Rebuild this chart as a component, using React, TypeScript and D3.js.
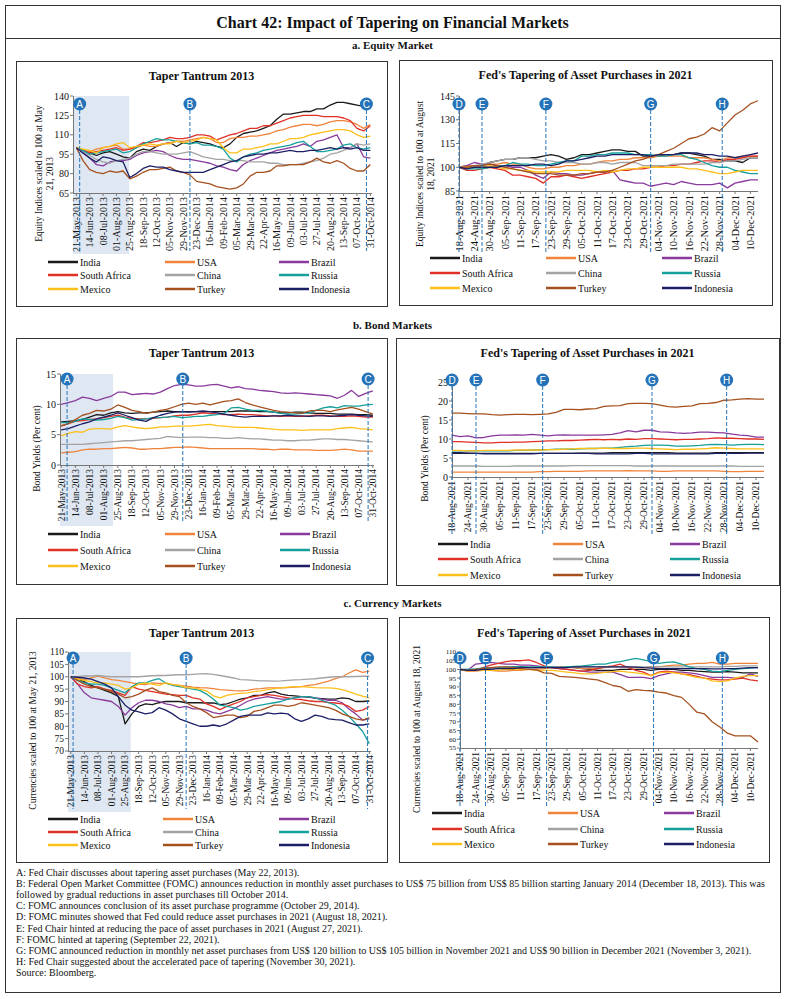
import React from 'react';
import * as d3 from 'd3';

const FONT = "'Liberation Serif', 'Times New Roman', serif";
const SANS = "'Liberation Sans', Arial, sans-serif";
const BLUE = '#2473b8';

const countries = ['India', 'USA', 'Brazil', 'South Africa', 'China', 'Russia', 'Mexico', 'Turkey', 'Indonesia'];
const colors = ['#1a1a1a', '#f0843c', '#8a3a9c', '#e03127', '#a3a3a3', '#16a09b', '#fdbf1a', '#a5511f', '#1d1f66'];

// sampling grid: every 12 days from 21-May-2013, every 3 days from 18-Aug-2021
const start13 = new Date(2013, 4, 21);
const start21 = new Date(2021, 7, 18);
const dates13 = d3.range(45).map(i => d3.timeDay.offset(start13, 12 * i));
const dates21 = d3.range(40).map(i => d3.timeDay.offset(start21, 3 * i));
const ticks13 = d3.range(23).map(i => d3.timeDay.offset(start13, 24 * i));
const ticks21 = d3.range(20).map(i => d3.timeDay.offset(start21, 6 * i));

// a. equity, taper tantrum 2013
const eq13India = [100,98,96,94,96,97,95,93,92,97,99,98,101,103,104,101,104,103,105,104,103,101,100,103,108,111,112,113,115,117,122,126,126,127,128,128,130,130,133,135,135,134,133,132,132];
const eq13USA = [100,98,97,99,100,101,102,99,99,100,102,101,101,103,104,105,105,106,107,108,107,104,104,107,108,108,109,109,110,111,113,114,116,117,118,118,117,118,120,121,121,120,118,115,118];
const eq13Brazil = [100,96,92,87,86,89,90,90,91,94,96,97,98,97,94,92,91,91,90,89,88,86,85,83,82,87,90,92,94,96,98,99,100,101,103,101,105,106,108,110,100,100,103,93,92];
const eq13SA = [100,98,96,97,98,99,100,98,99,101,104,104,105,106,108,107,107,108,110,110,109,106,108,110,111,113,115,115,117,117,119,121,123,124,125,125,125,124,124,124,123,121,115,113,117];
const eq13China = [100,97,94,91,89,88,90,91,92,95,97,97,96,95,95,95,96,97,95,93,92,91,91,90,90,90,89,89,89,88,88,87,87,87,88,89,90,92,95,96,98,100,103,102,103];
const eq13Russia = [100,98,95,96,97,98,99,96,97,100,103,105,107,106,106,105,104,103,104,102,102,101,99,92,89,93,95,96,98,99,100,101,102,104,105,101,97,97,98,99,102,103,100,99,100];
const eq13Mexico = [100,99,98,96,100,101,103,104,100,101,102,103,102,103,103,105,104,105,106,108,107,106,100,96,96,99,99,100,101,103,103,105,107,107,108,110,111,112,113,114,114,113,110,108,109];
const eq13Turkey = [100,90,83,81,80,82,81,82,76,78,81,83,83,84,85,82,81,79,74,73,72,70,69,68,69,72,78,81,81,82,86,86,87,87,87,89,92,89,88,90,88,84,82,82,87];
const eq13Indonesia = [100,96,92,89,93,92,90,89,77,80,84,86,85,85,83,82,81,81,81,81,83,85,87,89,90,93,94,95,95,96,96,97,98,97,97,98,98,99,100,99,100,99,100,98,98];

// a. equity, tapering 2021
const eq21India = [100,100,101,101,103,104,105,105,106,106,106,107,108,107,105,106,108,108,109,110,111,111,110,110,107,107,107,108,108,109,109,108,107,105,105,104,104,103,106,106];
const eq21USA = [100,101,101,101,102,102,103,102,102,100,99,99,100,100,101,101,102,102,103,104,104,105,105,106,106,106,107,107,107,107,106,106,106,105,104,106,106,107,107,107];
const eq21Brazil = [100,101,103,102,102,101,101,100,100,98,95,93,97,96,96,95,95,96,97,97,98,92,91,90,90,88,89,90,89,91,90,89,89,89,90,87,90,91,92,92];
const eq21SA = [100,98,98,99,100,99,98,95,95,94,93,90,94,94,95,94,93,94,95,96,97,98,98,99,99,100,100,101,101,102,102,103,104,104,103,105,105,106,107,107];
const eq21China = [100,100,101,102,103,104,105,105,106,106,105,104,104,103,103,103,102,102,103,103,102,103,103,103,101,101,101,101,102,102,102,102,102,103,103,104,104,105,106,106];
const eq21Russia = [100,99,99,99,100,101,101,103,102,102,101,101,102,103,104,104,107,107,108,108,109,109,109,108,108,108,107,107,108,108,106,105,103,101,100,100,98,97,96,96];
const eq21Mexico = [100,100,100,100,101,100,99,99,98,98,97,97,97,97,98,98,98,98,97,98,97,98,99,99,100,100,100,100,100,100,99,99,98,97,96,96,97,98,98,98];
const eq21Turkey = [100,100,101,101,102,101,100,99,98,97,96,96,96,95,95,95,96,96,97,97,98,100,102,104,105,107,108,110,112,115,118,119,121,125,123,128,133,136,140,142];
const eq21Indonesia = [100,99,100,100,100,100,101,101,101,101,102,102,101,102,104,104,105,106,107,107,108,108,108,108,108,107,108,108,108,109,109,109,108,108,107,107,106,107,108,109];

// b. bond yields, 2013
const bd13India = [7.1,7.2,7.3,7.5,7.9,8.3,8.2,8.6,8.8,8.6,8.5,8.6,8.6,8.7,8.8,8.9,8.8,8.8,8.8,8.8,8.7,8.8,8.8,8.8,8.8,8.9,8.9,8.9,8.8,8.8,8.7,8.6,8.6,8.7,8.7,8.6,8.5,8.5,8.5,8.4,8.4,8.4,8.3,8.3,8.2];
const bd13USA = [2.0,2.1,2.2,2.5,2.6,2.6,2.7,2.7,2.8,2.9,2.8,2.6,2.6,2.7,2.7,2.8,2.9,2.9,3.0,2.9,2.8,2.7,2.7,2.7,2.7,2.7,2.7,2.7,2.6,2.6,2.5,2.6,2.6,2.5,2.5,2.5,2.4,2.4,2.4,2.5,2.6,2.5,2.3,2.3,2.3];
const bd13Brazil = [10.0,10.3,10.6,11.2,11.0,10.6,11.0,11.3,12.0,12.0,11.6,11.7,11.8,11.7,12.0,12.6,13.1,13.3,13.2,13.0,13.0,13.2,13.3,13.0,12.7,12.9,12.6,12.5,12.3,12.2,12.1,11.9,11.8,11.9,11.8,11.7,11.6,11.5,11.4,11.0,11.5,12.3,11.3,11.8,12.2];
const bd13SA = [6.4,6.8,7.2,7.3,7.5,7.6,7.8,8.0,8.2,7.9,7.7,7.6,7.6,7.7,7.8,7.9,8.1,8.2,8.2,8.4,8.6,8.5,8.4,8.3,8.3,8.4,8.3,8.3,8.2,8.1,8.1,8.0,8.1,8.0,8.0,8.1,8.2,8.2,8.1,8.0,8.0,8.1,8.0,7.9,7.9];
const bd13China = [3.4,3.4,3.4,3.4,3.5,3.6,3.7,3.8,3.9,4.0,4.0,4.1,4.2,4.3,4.4,4.7,4.6,4.5,4.6,4.6,4.6,4.5,4.5,4.4,4.4,4.5,4.4,4.3,4.3,4.2,4.1,4.1,4.0,4.0,4.1,4.1,4.2,4.3,4.3,4.2,4.2,4.1,4.0,3.9,3.8];
const bd13Russia = [7.0,7.0,7.2,7.6,7.5,7.4,7.5,7.7,8.0,7.8,7.4,7.5,7.6,7.8,7.8,7.9,8.0,7.8,7.9,8.0,8.0,8.2,8.3,8.5,9.4,9.5,9.2,9.0,9.0,8.9,8.7,8.5,8.4,8.4,8.5,8.6,9.0,9.4,9.6,9.4,9.8,9.7,9.7,9.9,10.0];
const bd13Mexico = [4.8,5.2,5.5,5.4,5.9,6.0,6.0,5.9,6.3,6.5,6.3,6.1,6.0,6.1,6.3,6.3,6.4,6.4,6.4,6.5,6.6,6.7,6.5,6.4,6.3,6.2,6.2,6.2,6.1,6.0,5.9,5.8,5.8,5.8,5.7,5.8,5.8,5.8,5.8,6.0,6.1,6.2,6.0,5.9,5.8];
const bd13Turkey = [6.5,6.8,7.5,8.2,8.5,9.0,8.9,9.2,9.9,9.5,9.0,8.8,8.5,8.7,9.0,9.2,9.6,10.0,10.2,10.0,10.2,9.9,10.2,10.5,10.6,10.9,10.3,9.9,9.6,9.3,9.0,8.8,8.7,8.6,8.5,8.9,9.0,9.0,8.8,9.1,9.3,9.5,9.2,8.8,8.4];
const bd13Indonesia = [5.8,6.0,6.4,6.8,7.1,7.6,7.9,8.2,8.6,8.2,7.8,7.4,7.2,7.8,8.2,8.5,8.7,8.8,8.7,8.8,8.9,8.8,8.6,8.4,8.2,8.0,7.9,8.0,8.0,8.0,8.1,8.1,8.2,8.1,8.1,8.0,8.1,8.1,8.0,8.1,8.2,8.3,8.2,8.1,8.0];

// b. bond yields, 2021
const bd21India = [6.2,6.2,6.2,6.2,6.2,6.2,6.2,6.2,6.2,6.2,6.2,6.2,6.2,6.2,6.2,6.2,6.3,6.3,6.3,6.3,6.4,6.4,6.4,6.4,6.4,6.4,6.4,6.4,6.3,6.3,6.3,6.3,6.3,6.4,6.4,6.4,6.4,6.4,6.4,6.4];
const bd21USA = [1.3,1.3,1.3,1.3,1.3,1.3,1.3,1.3,1.3,1.3,1.3,1.4,1.4,1.5,1.5,1.5,1.5,1.6,1.6,1.6,1.6,1.6,1.7,1.6,1.6,1.6,1.5,1.5,1.6,1.6,1.6,1.6,1.6,1.6,1.5,1.4,1.4,1.5,1.5,1.5];
const bd21Brazil = [11.0,10.6,10.8,10.3,10.4,10.8,11.0,11.0,11.1,11.0,11.2,11.0,10.8,11.0,11.1,11.0,11.0,11.0,11.0,11.1,11.2,11.6,12.2,11.9,12.3,12.3,11.9,11.8,11.6,11.5,11.6,11.8,11.8,11.7,11.6,11.3,11.0,10.9,10.5,10.5];
const bd21SA = [9.3,9.3,9.2,9.1,9.0,9.0,9.1,9.1,9.2,9.2,9.3,9.4,9.5,9.5,9.6,9.6,9.7,9.8,9.9,9.8,9.9,9.8,10.0,9.9,10.1,10.1,10.0,9.9,9.8,9.9,9.9,10.0,10.1,10.3,10.2,10.2,10.1,10.0,10.0,9.9];
const bd21China = [2.9,2.9,2.9,2.9,2.8,2.8,2.8,2.8,2.9,2.9,2.9,2.9,2.9,2.9,2.9,3.0,3.0,3.0,3.0,3.0,3.0,3.0,3.0,2.9,2.9,2.9,2.9,2.9,2.9,2.9,2.9,2.9,2.9,2.9,2.9,2.9,2.8,2.8,2.8,2.8];
const bd21Russia = [6.9,6.9,6.9,6.9,6.9,6.9,6.9,6.9,7.0,7.0,7.1,7.1,7.2,7.3,7.3,7.3,7.4,7.5,7.5,7.6,7.6,7.8,8.0,8.1,8.3,8.4,8.4,8.3,8.1,8.1,8.2,8.3,8.5,8.6,8.5,8.4,8.5,8.6,8.6,8.5];
const bd21Mexico = [7.0,7.0,6.9,6.9,7.0,7.0,7.0,7.0,7.1,7.1,7.1,7.1,7.2,7.2,7.3,7.4,7.5,7.5,7.5,7.6,7.5,7.5,7.5,7.6,7.6,7.5,7.4,7.3,7.2,7.3,7.3,7.4,7.5,7.7,7.6,7.5,7.4,7.4,7.4,7.4];
const bd21Turkey = [16.8,16.8,16.7,16.6,16.6,16.4,16.3,16.4,16.5,16.5,16.4,16.5,16.6,17.0,17.8,17.8,17.7,17.9,18.0,18.6,18.7,18.8,19.3,19.4,19.4,19.3,18.9,18.5,18.4,18.6,18.7,19.3,19.4,19.6,20.2,20.3,20.5,20.6,20.5,20.5];
const bd21Indonesia = [6.4,6.4,6.3,6.2,6.1,6.1,6.1,6.1,6.1,6.1,6.1,6.2,6.2,6.2,6.2,6.2,6.2,6.2,6.1,6.1,6.1,6.1,6.1,6.2,6.2,6.1,6.1,6.1,6.1,6.1,6.1,6.1,6.1,6.2,6.2,6.2,6.2,6.3,6.3,6.3];

// c. currencies, 2013
const cu13India = [100,99,98,96.5,95.5,94.5,93.5,92,81,85,88,89,88.7,89.5,90,90,90,89.5,89.5,89.5,89.4,89.4,88.7,89,90,91,91.5,92.5,92.5,93.5,94,93,92.5,92.3,92,91.8,91.4,91.2,91,91,91.5,91.2,90,90,90.2];
const cu13USA = [100,99.3,98.8,99.5,100.3,99.5,98.8,98.5,98,97.5,97,96.8,97.5,97.3,97.3,96.8,96.5,96.2,95.8,95.6,95.5,95.2,94.8,94.6,94.4,94.3,94.5,95,95.2,95.5,95.5,95.5,95.6,95.8,96,96.5,96.8,97.5,98.2,99.2,100,101.5,102.8,101.8,102.3];
const cu13Brazil = [100,97,93.5,91.5,91,90.5,90,88,84.5,87.5,89.5,90.5,90.5,90,89,88.5,87.5,88,87,87,86.5,85.5,85,86,87,88.5,90,91,91.5,92,91.5,91,91,91.5,92,92,91.5,91,90.5,90.5,89.5,87,85,82.5,83];
const cu13SA = [100,97,96,95.5,96,95,94.5,93.5,92.5,96,95,94.5,94,93.5,93,92.8,92.5,92.5,91.5,91,89,88,86.7,88,89,90,91.5,92,92.5,92.8,92.5,92,91.5,91,90.8,90.3,90,90,89.6,89.4,89,88,86,86.5,88];
const cu13China = [100,100,100.3,100.3,100.5,100.2,100,100,100,100,100,100.2,100.4,100.5,100.5,100.7,100.8,100.8,101,101.2,101.3,101,100.5,100,99.5,98.8,98.7,98.5,98.3,98.3,98.2,98.3,98.5,98.7,98.8,99,99.2,99.5,99.8,100,100,100,100.1,100.2,100.2];
const cu13Russia = [100,98.5,97.5,97,97,96.5,95.5,94.5,93.5,96,97.5,97.5,98.5,99.2,97.5,96.5,96,95.5,95,94.5,93,91,88.5,88,87.5,86.5,87,88,88.5,89,89.5,90,91,91.5,92,92,91.5,90.5,89.5,88.5,86.5,84,81,78,73];
const cu13Mexico = [100,99,98.5,98,97.5,97.5,97,96.5,95,95.5,97,97.5,97,96.5,97.5,96.8,96.5,95.5,95.5,95,94.3,92.3,91.5,92.5,93,93.3,93.5,94,94.3,94.8,95.2,95.5,95.8,96,96,95.8,95.6,95.5,95.5,95.3,94.8,94,93,92.2,91.5];
const cu13Turkey = [100,98.5,97,96,95.5,95,94,93,91.5,92,93,94.5,95.5,94,93.5,92.5,92,89.5,88,87,85.5,83.5,84,84.5,84.5,83.5,84,86,86.5,87.5,88.5,88.5,88,88.5,89.5,89,88.5,88,87.5,86.5,85,84,83,82.5,83.5];
const cu13Indonesia = [100,99.8,99.5,99,98,97,95.5,92,88.5,86.5,85.8,85,85.5,87.5,86.5,85,83,82,81,80,80,80.5,80,81,82.5,84,84.5,84.5,84.5,85.4,85,85.3,85,83,82,83,84.5,84,83,82.7,82.5,81.5,80.5,80.5,81];

// c. currencies, 2021
const cu21India = [100,99.5,99.5,100,100.5,101,101,101.5,101.5,101,101,101.5,101.5,101.5,101.5,101,100.5,100,99.5,99.5,99.5,100,100,100,100,99.5,100,100,100,99.5,99.5,99,98.8,98.5,98.5,98.8,98.5,98,98,98];
const cu21USA = [100,99.5,99,99.5,99.5,99,99,99.5,99.5,100,100,100.5,101,101,101,101,100.5,100.5,100.5,101,101.5,101.5,101,101,101,101.5,101.5,102,102.5,102.5,103,103.5,103.5,104,103,103,103.5,103.5,103.5,103.5];
const cu21Brazil = [100,99.5,103,103.5,104,103.5,103,103,102.5,102.5,102,101.5,101,100.5,100,99.5,99,98.5,98.5,98.5,98.5,97,95.5,95.5,95.5,94.8,96.5,97.5,98.5,98.5,98,97.5,96.5,95.5,95.5,95.5,95,95.5,97.5,96];
const cu21SA = [100,99,99.5,101,102.5,103.5,104.5,105,105,105.5,104,102,101,100.5,100,99.5,99,99.5,100.5,101.5,102,103,101,99.5,98.5,96.5,98.5,99,98.5,97.5,97,96,95,94.5,94,94,94.5,95,94,93.5];
const cu21China = [100,100,100,100,100.5,100.5,101,101,101,101,101,101,101.5,101.5,101.5,101.5,101.5,101.5,101.5,101.5,101.5,101.5,101.5,101.5,101.5,101.5,101.5,101.5,101.5,101.5,101.5,101.5,101.5,101.5,101.5,101.8,101.8,102,102,102];
const cu21Russia = [100,100,100.3,100.8,101,101,101.3,101.5,101.5,101.5,101.5,101.5,101.3,101,101.5,101.8,102,102.5,103,103,104,104.5,105.5,106.3,105.5,104.5,103.5,104,104.3,103,101.5,100.5,100,99,98.8,99.5,100,100.5,100.8,101];
const cu21Mexico = [100,99,99.5,99.5,99.5,99.5,100,100,100,100,99.5,99.5,99.5,99,98.5,98,97.5,97.5,97.8,98.3,98.8,99,98.5,98,97.5,96.5,98,98.5,98,97.5,96.5,95.5,95,93.5,93,93.5,95,96,96.5,96.5];
const cu21Turkey = [100,99.5,100,100.5,101,101.5,101.5,101,100.5,100,99.8,98,97.8,96,95.8,95.5,95,94.5,94,92.5,90.8,90,87.5,88.5,88,87.8,87,86.5,85,84,80,75.5,74.5,70,67,63.5,62,62,62,58.5];
const cu21Indonesia = [100,99.5,99.5,100,100,100.5,100.5,100.5,101,101,101,101,101,101,101,101.5,101.5,101.5,101.5,101.5,101.5,101.5,101.5,101.3,101,100.8,100.5,100.5,100.5,100.5,100.5,100.5,100.5,100.3,100.3,100.5,100.5,100.8,101,101];

const markers21: [string, Date][] = [
  ['D', new Date(2021, 7, 18)], ['E', new Date(2021, 7, 27)], ['F', new Date(2021, 8, 21)],
  ['G', new Date(2021, 10, 1)], ['H', new Date(2021, 10, 29)],
];

const footnotes = [
  'A: Fed Chair discusses about tapering asset purchases (May 22, 2013).',
  'B: Federal Open Market Committee (FOMC) announces reduction in monthly asset purchases to US$ 75 billion from US$ 85 billion starting January 2014 (December 18, 2013). This was',
  'followed by gradual reductions in asset purchases till October 2014.',
  'C: FOMC announces conclusion of its asset purchase programme (October 29, 2014).',
  'D: FOMC minutes showed that Fed could reduce asset purchases in 2021 (August 18, 2021).',
  'E: Fed Chair hinted at reducing the pace of asset purchases in 2021 (August 27, 2021).',
  'F: FOMC hinted at tapering (September 22, 2021).',
  'G: FOMC announced reduction in monthly net asset purchases from US$ 120 billion to US$ 105 billion in November 2021 and US$ 90 billion in December 2021 (November 3, 2021).',
  'H: Fed Chair suggested about the accelerated pace of tapering (November 30, 2021).',
  'Source: Bloomberg.',
];

type Spec = {
  box: [number, number, number, number];
  title: string;
  titleY: number;
  plot: { l: number; r: number; t: number; b: number };
  yDomain: [number, number];
  yStep: number;
  yTickFont: number;
  yLabel: string[];
  yLabelX: number[];
  xDomain: [Date, Date];
  ticks: Date[];
  tickFont: number;
  dates: Date[];
  series: number[][];
  markers: [string, Date][];
  shadeEnd?: Date;
  labelsBottom: number;
  circleY: number;
  legendRows: number[];
  legendCols: number[];
};

const panels: Spec[] = [
  {
    box: [16, 61, 371, 245], title: 'Taper Tantrum 2013', titleY: 76,
    plot: { l: 73, r: 372, t: 96, b: 193 }, yDomain: [65, 140], yStep: 15, yTickFont: 10,
    yLabel: ['Equity Indices scaled to 100 at May', '21, 2013'], yLabelX: [39, 50],
    xDomain: [new Date(2013, 4, 15), new Date(2014, 10, 3)], ticks: ticks13, tickFont: 10, dates: dates13,
    series: [eq13India, eq13USA, eq13Brazil, eq13SA, eq13China, eq13Russia, eq13Mexico, eq13Turkey, eq13Indonesia],
    markers: [['A', new Date(2013, 4, 27)], ['B', new Date(2013, 11, 11)], ['C', new Date(2014, 9, 24)]],
    shadeEnd: new Date(2013, 7, 24), labelsBottom: 251, circleY: 104,
    legendRows: [262, 275, 289], legendCols: [48, 165, 279],
  },
  {
    box: [399, 60, 373, 245], title: "Fed's Tapering of Asset Purchases in 2021", titleY: 75,
    plot: { l: 459, r: 758, t: 96, b: 191 }, yDomain: [85, 145], yStep: 15, yTickFont: 10,
    yLabel: ['Equity Indices scaled to 100 at August', '18, 2021'], yLabelX: [420, 431],
    xDomain: [new Date(2021, 7, 18), new Date(2021, 11, 13)], ticks: ticks21, tickFont: 10.5, dates: dates21,
    series: [eq21India, eq21USA, eq21Brazil, eq21SA, eq21China, eq21Russia, eq21Mexico, eq21Turkey, eq21Indonesia],
    markers: markers21, labelsBottom: 252, circleY: 104,
    legendRows: [258, 273, 288], legendCols: [430, 546, 662],
  },
  {
    box: [16, 338, 371, 246], title: 'Taper Tantrum 2013', titleY: 353,
    plot: { l: 60, r: 374, t: 374, b: 465 }, yDomain: [0, 15], yStep: 5, yTickFont: 10,
    yLabel: ['Bond Yields (Per cent)'], yLabelX: [37],
    xDomain: [new Date(2013, 4, 19), new Date(2014, 10, 2)], ticks: ticks13, tickFont: 9.5, dates: dates13,
    series: [bd13India, bd13USA, bd13Brazil, bd13SA, bd13China, bd13Russia, bd13Mexico, bd13Turkey, bd13Indonesia],
    markers: [['A', new Date(2013, 4, 31)], ['B', new Date(2013, 11, 13)], ['C', new Date(2014, 9, 23)]],
    shadeEnd: new Date(2013, 7, 17), labelsBottom: 523, circleY: 379,
    legendRows: [534, 550, 566], legendCols: [48, 165, 280],
  },
  {
    box: [396, 338, 383, 247], title: "Fed's Tapering of Asset Purchases in 2021", titleY: 353,
    plot: { l: 452, r: 764, t: 382, b: 477 }, yDomain: [0, 25], yStep: 5, yTickFont: 10,
    yLabel: ['Bond Yields (Per cent)'], yLabelX: [425],
    xDomain: [new Date(2021, 7, 18), new Date(2021, 11, 13)], ticks: ticks21, tickFont: 9.5, dates: dates21,
    series: [bd21India, bd21USA, bd21Brazil, bd21SA, bd21China, bd21Russia, bd21Mexico, bd21Turkey, bd21Indonesia],
    markers: markers21, labelsBottom: 535, circleY: 380,
    legendRows: [544, 559, 575], legendCols: [438, 553, 670],
  },
  {
    box: [16, 618, 371, 244], title: 'Taper Tantrum 2013', titleY: 633,
    plot: { l: 68, r: 371, t: 652, b: 751 }, yDomain: [70, 110], yStep: 5, yTickFont: 9.5,
    yLabel: ['Currencies scaled to 100 at May 21, 2013'], yLabelX: [33],
    xDomain: [new Date(2013, 4, 16), new Date(2014, 10, 3)], ticks: ticks13, tickFont: 9.5, dates: dates13,
    series: [cu13India, cu13USA, cu13Brazil, cu13SA, cu13China, cu13Russia, cu13Mexico, cu13Turkey, cu13Indonesia],
    markers: [['A', new Date(2013, 4, 25)], ['B', new Date(2013, 11, 11)], ['C', new Date(2014, 9, 28)]],
    shadeEnd: new Date(2013, 8, 4), labelsBottom: 809, circleY: 658,
    legendRows: [819, 832, 845], legendCols: [48, 163, 279],
  },
  {
    box: [399, 617, 370, 245], title: "Fed's Tapering of Asset Purchases in 2021", titleY: 633,
    plot: { l: 460, r: 758, t: 652, b: 748 }, yDomain: [55, 110], yStep: 5, yTickFont: 7,
    yLabel: ['Currencies scaled to 100 at August 18, 2021'], yLabelX: [417],
    xDomain: [new Date(2021, 7, 18), new Date(2021, 11, 13)], ticks: ticks21, tickFont: 9.5, dates: dates21,
    series: [cu21India, cu21USA, cu21Brazil, cu21SA, cu21China, cu21Russia, cu21Mexico, cu21Turkey, cu21Indonesia],
    markers: [['D', new Date(2021, 7, 18)], ['E', new Date(2021, 7, 28)], ['F', new Date(2021, 8, 21)], ['G', new Date(2021, 10, 2)], ['H', new Date(2021, 10, 29)]],
    labelsBottom: 806, circleY: 658,
    legendRows: [813, 829, 844], legendCols: [432, 548, 664],
  },
];

const fmt = d3.timeFormat('%d-%b-%Y');

function Panel({ s }: { s: Spec }) {
  const { plot } = s;
  const x = d3.scaleTime().domain(s.xDomain).range([plot.l, plot.r]);
  const y = d3.scaleLinear().domain(s.yDomain).range([plot.b, plot.t]);
  const yTicks = d3.range(s.yDomain[0], s.yDomain[1] + 1e-6, s.yStep);
  const line = d3.line<number>().x((_, i) => x(s.dates[i])).y(v => y(v));
  const yMid = (plot.t + s.labelsBottom) / 2;
  const [bx, by, bw, bh] = s.box;

  return (
    <g>
      <rect x={bx + 0.5} y={by + 0.5} width={bw} height={bh} fill="#fff" stroke="#333" strokeWidth={1} />
      <text x={bx + bw / 2} y={s.titleY} textAnchor="middle" dy="0.35em" fontSize={12} fontWeight="bold">{s.title}</text>

      {s.shadeEnd && (
        <rect x={plot.l} y={plot.t} width={x(s.shadeEnd) - plot.l} height={s.labelsBottom + 3 - plot.t} fill="#dfe8f2" />
      )}

      {/* y axis */}
      <line x1={plot.l + 0.5} x2={plot.l + 0.5} y1={plot.t} y2={plot.b} stroke="#777" />
      {yTicks.map(t => (
        <g key={t}>
          <line x1={plot.l - 3} x2={plot.l} y1={y(t)} y2={y(t)} stroke="#777" />
          <text x={plot.l - 4} y={y(t)} dy="0.35em" textAnchor="end" fontSize={s.yTickFont}>{t}</text>
        </g>
      ))}
      {s.yLabel.map((txt, i) => (
        <text key={i} transform={`translate(${s.yLabelX[i]},${yMid}) rotate(-90)`} textAnchor="middle" dy="0.35em" fontSize={9.5}>{txt}</text>
      ))}

      {/* x axis */}
      <line x1={plot.l} x2={plot.r} y1={plot.b + 0.5} y2={plot.b + 0.5} stroke="#777" />
      {s.ticks.map(t => (
        <g key={+t}>
          <line x1={x(t)} x2={x(t)} y1={plot.b} y2={plot.b + 3} stroke="#777" />
          <text transform={`translate(${x(t) + s.tickFont * 0.35},${plot.b + 4}) rotate(-90)`} textAnchor="end" fontSize={s.tickFont}>{fmt(t)}</text>
        </g>
      ))}

      {/* series */}
      {s.series.map((vals, i) => (
        <path key={i} d={line(vals) || ''} fill="none" stroke={colors[i]} strokeWidth={1.3} strokeLinejoin="round" />
      ))}

      {/* event markers */}
      {s.markers.map(([letter, d]) => (
        <g key={letter}>
          <line x1={x(d)} x2={x(d)} y1={s.circleY} y2={s.labelsBottom} stroke={BLUE} strokeWidth={1} strokeDasharray="4,2" />
          <circle cx={x(d)} cy={s.circleY} r={6.5} fill={BLUE} />
          <text x={x(d)} y={s.circleY} dy="0.36em" textAnchor="middle" fontFamily={SANS} fontSize={10} fill="#fff">{letter}</text>
        </g>
      ))}

      {/* legend */}
      {countries.map((c, i) => {
        const lx = s.legendCols[i % 3];
        const ly = s.legendRows[Math.floor(i / 3)];
        return (
          <g key={c}>
            <line x1={lx} x2={lx + 30} y1={ly} y2={ly} stroke={colors[i]} strokeWidth={2.5} />
            <text x={lx + 32} y={ly} dy="0.35em" fontSize={10}>{c}</text>
          </g>
        );
      })}
    </g>
  );
}

export default function App() {
  return (
    <svg width={785} height={999} style={{ position: 'absolute', left: 0, top: 0, display: 'block' }} fontFamily={FONT} fill="#111">
      <rect x={0} y={0} width={785} height={999} fill="#fff" />
      <rect x={5.5} y={5.5} width={775} height={987} fill="none" stroke="#333" />
      <line x1={5.5} x2={780.5} y1={38.5} y2={38.5} stroke="#333" />
      <text x={392.5} y={22} dy="0.35em" textAnchor="middle" fontSize={16} fontWeight="bold">Chart 42: Impact of Tapering on Financial Markets</text>
      <text x={392.5} y={45} dy="0.35em" textAnchor="middle" fontSize={11} fontWeight="bold">a. Equity Market</text>
      <text x={392.5} y={325} dy="0.35em" textAnchor="middle" fontSize={11} fontWeight="bold">b. Bond Markets</text>
      <text x={392.5} y={603} dy="0.35em" textAnchor="middle" fontSize={11} fontWeight="bold">c. Currency Markets</text>
      {panels.map((s, i) => <Panel key={i} s={s} />)}
      {footnotes.map((f, i) => (
        <text key={i} x={16} y={872 + i * 11.2} dy="0.35em" fontSize={10}>{f}</text>
      ))}
    </svg>
  );
}
